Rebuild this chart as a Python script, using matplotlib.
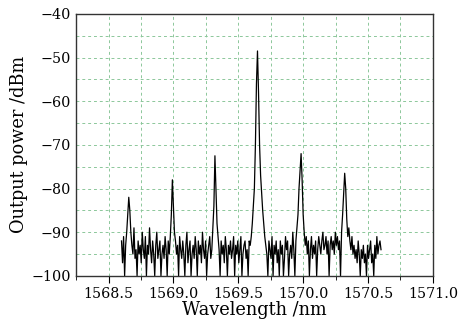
import numpy as np
import matplotlib
matplotlib.use("Agg")
import matplotlib.pyplot as plt
from matplotlib.ticker import MultipleLocator

# spectrum (dBm), uniform sampling 1568.60 .. 1570.60 nm
power = [
    -92, -97, -91, -100, -93, -90, -86, -82, -85, -90,
    -93, -95, -89, -96, -94, -100, -92, -95, -93, -97,
    -90, -94, -96, -91, -100, -93, -95, -89, -94, -97,
    -92, -95, -100, -93, -90, -96, -94, -92, -100, -95,
    -93, -96, -91, -94, -100, -92, -95, -91, -86, -78,
    -84, -90, -92, -95, -93, -100, -91, -94, -96, -92,
    -95, -100, -93, -90, -97, -94, -92, -100, -95, -93,
    -96, -91, -94, -100, -92, -95, -93, -97, -90, -94,
    -96, -92, -100, -95, -93, -91, -96, -94, -89, -84,
    -72.5, -80, -88, -91, -94, -100, -92, -95, -93, -97,
    -91, -94, -100, -93, -95, -92, -96, -94, -91, -100,
    -93, -95, -92, -97, -94, -91, -100, -95, -93, -92,
    -96, -94, -100, -92, -93,
    -91, -88, -84, -80, -70, -56, -48.5, -58, -70, -77, -81, -85, -88, -91,
    -93, -95, -100, -92, -94, -96, -91, -100, -93, -95, -92,
    -97, -94, -100, -92, -95, -93, -100, -96, -91, -94,
    -92, -100, -95, -93, -96, -90, -94, -100, -92, -89,
    -86, -80, -76, -72, -78, -86, -90, -93, -91, -95,
    -92, -100, -94, -91, -96, -93, -95, -92, -100, -94,
    -91, -93, -95, -92, -90, -94, -93, -91, -95, -92,
    -100, -93, -91, -94, -92, -95, -90, -93, -91, -94,
    -92, -100, -90, -86, -81, -76.5, -80, -87, -91, -89,
    -92, -94, -91, -95, -93, -96, -94, -97, -92, -95,
    -100, -94, -96, -93, -97, -95, -100, -93, -96, -94,
    -92, -97, -95, -100, -93, -96, -91, -95, -93, -92, -94,
]
wl_start, wl_end = 1568.60, 1570.60
wavelength = np.linspace(wl_start, wl_end, len(power))

xticks = [1568.5, 1569.0, 1569.5, 1570.0, 1570.5, 1571.0]
yticks = [-40, -50, -60, -70, -80, -90, -100]

plt.rcParams['font.family'] = 'DejaVu Serif'
plt.rcParams['font.size'] = 10.3

fig = plt.figure(figsize=(4.64, 3.30), dpi=100)
ax = fig.add_axes([0.164, 0.164, 0.769, 0.794])

ax.plot(wavelength, power, color='black', lw=0.9)

ax.set_xlim(1568.25, 1571.0)
ax.set_ylim(-100, -40)
ax.set_xticks(xticks)
ax.set_xticklabels(['%.1f' % v for v in xticks])
ax.set_yticks(yticks)
ax.xaxis.set_minor_locator(MultipleLocator(0.25))
ax.yaxis.set_minor_locator(MultipleLocator(5))

# light green dashed grid
ax.grid(True, which='both', color='#8cc79a', linestyle=(0, (3, 3)), lw=0.7)
ax.tick_params(axis='x', which='major', direction='out', length=5, pad=3)
ax.tick_params(axis='x', which='minor', direction='out', length=3)
ax.tick_params(axis='y', which='both', length=0, pad=4)
for s in ax.spines.values():
    s.set_color('#333333')
    s.set_linewidth(1.0)

ax.set_xlabel('Wavelength /nm', fontsize=12.8, labelpad=0)
ax.set_ylabel('Output power /dBm', fontsize=12.8, labelpad=2)

plt.savefig('out.png', dpi=100)
